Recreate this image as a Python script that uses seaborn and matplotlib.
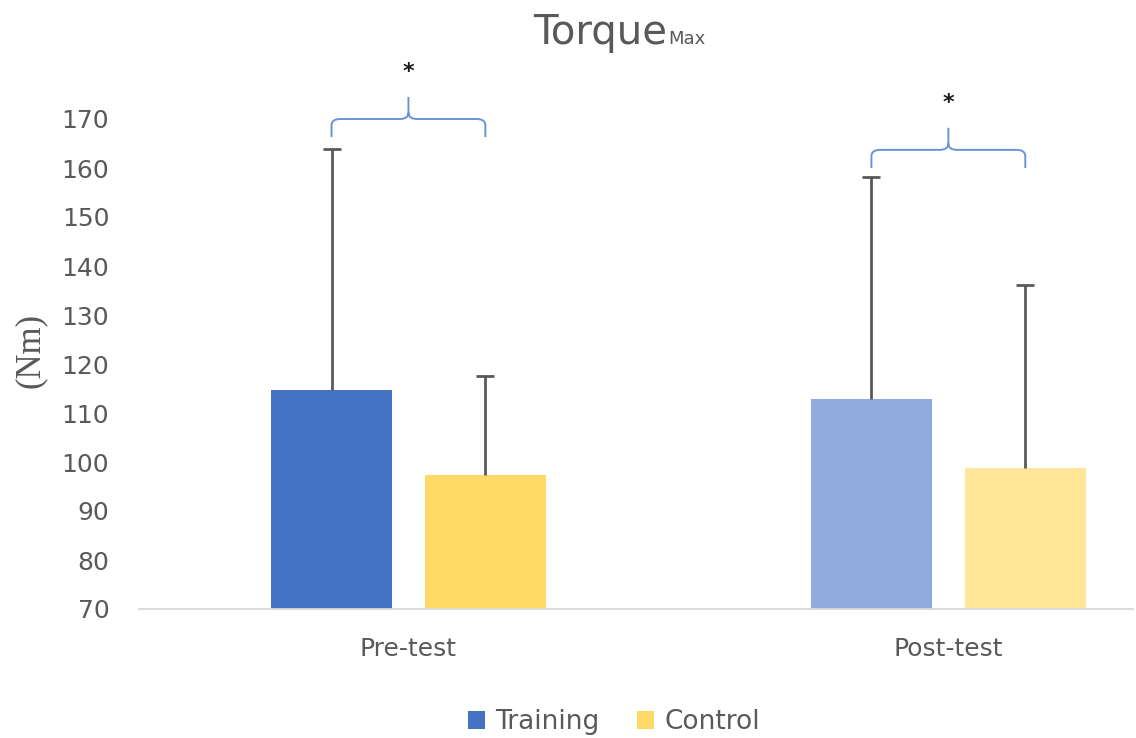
import numpy as np
import pandas as pd
import matplotlib
matplotlib.use('Agg')
import matplotlib.pyplot as plt
import seaborn as sns
from matplotlib.patches import Patch, PathPatch
from matplotlib.path import Path

# data
phases = ['Pre-test', 'Post-test']
groups = ['Training', 'Control']
means_training = [114.7, 112.9]
means_control = [97.3, 98.8]
sd_training = [49.2, 45.3]
sd_control = [20.3, 37.3]
y_ticks = [70, 80, 90, 100, 110, 120, 130, 140, 150, 160, 170]
sig_labels = ['*', '*']
bracket_y = [170.0, 163.7]

bar_colors = {'Training': ['#4472C4', '#8FAADC'],
              'Control': ['#FFD966', '#FFE699']}
text_col = '#595959'

sns.set_style('white')
plt.rcParams['font.family'] = ['DejaVu Sans']

df = pd.DataFrame({'phase': phases * 2,
                   'group': ['Training'] * 2 + ['Control'] * 2,
                   'torque': means_training + means_control})
sds = {'Training': sd_training, 'Control': sd_control}

fig = plt.figure(figsize=(11.36, 7.38), dpi=100)
ax = fig.add_axes([138.5 / 1136, 1 - 609 / 738, (1133 - 138.5) / 1136, (609 - 119) / 738])

sns.barplot(data=df, x='phase', y='torque', hue='group', order=phases,
            hue_order=groups, width=0.57, gap=0.214, errorbar=None,
            legend=False, ax=ax)

centers = {}
for container, grp in zip(ax.containers, groups):
    xs = []
    for bar, c in zip(container, bar_colors[grp]):
        bar.set_facecolor(c)
        bar.set_edgecolor('none')
        xs.append(bar.get_x() + bar.get_width() / 2)
    centers[grp] = xs
    m = df.loc[df['group'] == grp, 'torque'].to_numpy()
    tops = m + np.array(sds[grp])
    ax.vlines(xs, m, tops, color=text_col, lw=2.0, zorder=3)
    ax.plot(xs, tops, ls='none', marker='_', markersize=12.5, mew=2.0,
            color=text_col, zorder=3)

ax.set_ylim(70, 170)
ax.set_yticks(y_ticks)
ax.set_xlim(-0.5, 1.342)
ax.set_xlabel('')
ax.set_ylabel('')
for s in ['left', 'top', 'right']:
    ax.spines[s].set_visible(False)
ax.spines['bottom'].set_color('#D9D9D9')
ax.spines['bottom'].set_linewidth(1.3)
ax.tick_params(axis='y', length=0, labelsize=18, colors=text_col, pad=21)
ax.tick_params(axis='x', length=0, labelsize=18, colors=text_col, pad=20)


def brace(ax, x0, x1, y, drop=3.7, rise=4.5, rx=0.016, ry=1.3):
    xm = (x0 + x1) / 2
    M, L, C = Path.MOVETO, Path.LINETO, Path.CURVE3
    verts = [(x0, y - drop), (x0, y - ry), (x0, y), (x0 + rx, y),
             (xm - rx, y), (xm, y), (xm, y + ry), (xm, y + rise),
             (x1, y - drop), (x1, y - ry), (x1, y), (x1 - rx, y),
             (xm + rx, y), (xm, y), (xm, y + ry)]
    codes = [M, L, C, C, L, C, C, L, M, L, C, C, L, C, C]
    ax.add_patch(PathPatch(Path(verts, codes), fill=False, edgecolor='#6A93D6',
                           lw=1.4, clip_on=False, zorder=4))
    return xm


for i, (lab, by) in enumerate(zip(sig_labels, bracket_y)):
    xm = brace(ax, centers['Training'][i], centers['Control'][i], by)
    ax.text(xm, by + 9.6, lab, ha='center', va='center', fontsize=16,
            fontweight='bold', color='#1a1a1a', clip_on=False)

# title with subscript
t = fig.text(533 / 1136, 1 - 44 / 738, 'Torque', fontsize=29, color=text_col,
             ha='left', va='baseline')
ax.annotate('Max', xy=(1, 1 - 44 / 738), xycoords=(t, 'figure fraction'),
            xytext=(1, 0), textcoords='offset points', fontsize=13,
            color=text_col, ha='left', va='baseline')

fig.text(30 / 1136, 1 - 350 / 738, '(Nm)', rotation=90, ha='center', va='center',
         fontsize=25, color=text_col, family='Liberation Serif')

handles = [Patch(facecolor=bar_colors[g][0], edgecolor='none') for g in groups]
fig.legend(handles, groups, loc='center', bbox_to_anchor=(614 / 1136, 1 - 722 / 738),
           ncol=2, frameon=False, fontsize=19, handlelength=0.65, handleheight=0.65,
           columnspacing=1.4, handletextpad=0.4, labelcolor=text_col)

fig.savefig('out.png', dpi=100)
